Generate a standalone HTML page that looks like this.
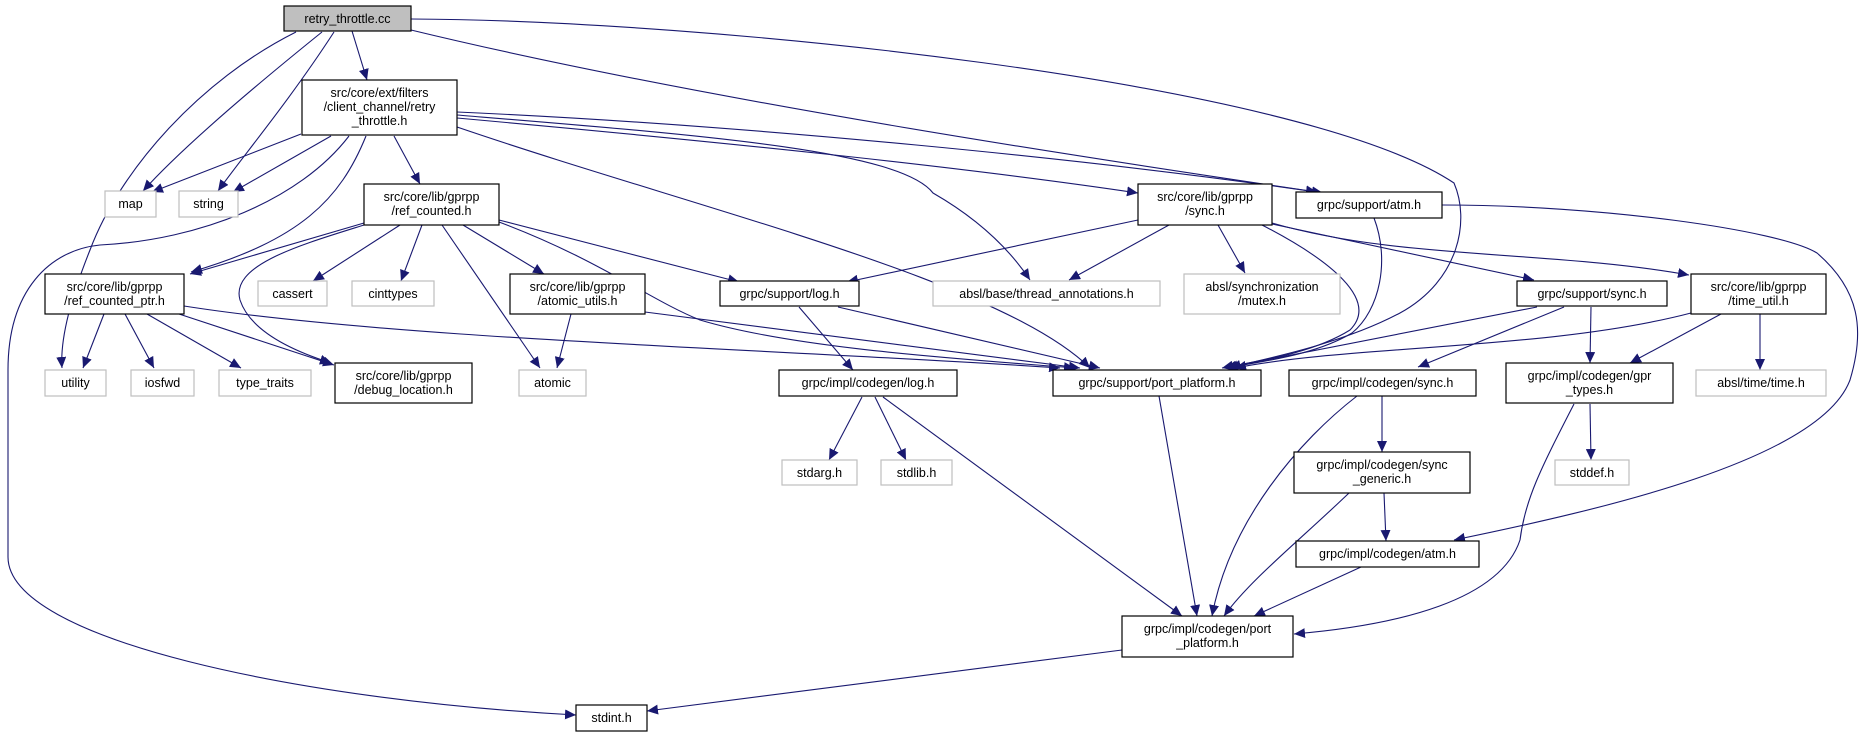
<!DOCTYPE html>
<html><head><meta charset="utf-8"><style>
html,body{margin:0;padding:0;background:#fff;}
svg{display:block;}
text{font-family:"Liberation Sans",sans-serif;font-size:12.5px;fill:#000;text-anchor:middle;}
.n{fill:#fff;stroke:#000;stroke-width:1.2;}
.g{fill:#fff;stroke:#bfbfbf;stroke-width:1.2;}
.e{fill:none;stroke:#191970;stroke-width:1.1;marker-end:url(#a);}
</style></head><body>
<svg width="1870" height="737" viewBox="0 0 1870 737" xmlns="http://www.w3.org/2000/svg">
<defs><marker id="a" markerUnits="userSpaceOnUse" markerWidth="12" markerHeight="10" refX="11" refY="5" orient="auto"><path d="M0,0 L11,5 L0,10 z" fill="#191970"/></marker></defs>

<!-- edges -->
<g>
<!-- retry_throttle.cc -->
<path class="e" d="M352,31 L367,80"/>
<path class="e" d="M322,32 C250,90 180,150 143,191"/>
<path class="e" d="M334,32 C290,100 240,160 218,191"/>
<path class="e" d="M296,32 C200,80 120,170 90,250 C70,300 60,340 62,368"/>
<path class="e" d="M411,19 C700,20 1300,80 1454,183 C1470,220 1460,280 1400,313 C1340,345 1260,360 1227,368"/>
<path class="e" d="M411,30 C700,100 1100,160 1317,192"/>
<!-- retry_throttle.h -->
<path class="e" d="M301,134 L152,192"/>
<path class="e" d="M331,136 L233,192"/>
<path class="e" d="M349,136 C300,200 200,240 100,245 C50,250 8,290 8,370 L8,557 C8,640 300,700 576,715"/>
<path class="e" d="M366,136 C340,200 300,240 191,272"/>
<path class="e" d="M394,136 L420,184"/>
<path class="e" d="M457,127 C700,210 1000,280 1090,368"/>
<path class="e" d="M457,118 C700,140 950,165 1138,193"/>
<path class="e" d="M457,112 C750,125 1100,160 1323,193"/>
<path class="e" d="M457,115 C700,135 900,150 933,193 C980,220 1010,250 1030,280"/>
<!-- ref_counted.h -->
<path class="e" d="M364,223 L190,274"/>
<path class="e" d="M364,225 C300,245 230,265 240,300 C250,330 290,350 331,363"/>
<path class="e" d="M400,225 L313,281"/>
<path class="e" d="M422,225 L401,281"/>
<path class="e" d="M442,225 L540,368"/>
<path class="e" d="M463,225 L544,274"/>
<path class="e" d="M499,220 L739,282"/>
<path class="e" d="M499,222 C600,260 650,300 700,320 C800,350 980,360 1075,368"/>
<!-- ref_counted_ptr.h -->
<path class="e" d="M104,314 L83,368"/>
<path class="e" d="M125,314 L154,368"/>
<path class="e" d="M147,314 L241,368"/>
<path class="e" d="M179,314 L334,365"/>
<path class="e" d="M184,306 C400,340 800,350 1060,368"/>
<!-- atomic_utils.h -->
<path class="e" d="M571,314 L557,368"/>
<path class="e" d="M645,312 L1080,368"/>
<!-- log.h -->
<path class="e" d="M799,307 L853,370"/>
<path class="e" d="M838,307 L1100,368"/>
<!-- sync.h gprpp -->
<path class="e" d="M1138,220 L847,282"/>
<path class="e" d="M1169,225 L1069,280"/>
<path class="e" d="M1218,225 L1245,273"/>
<path class="e" d="M1262,225 C1330,260 1380,300 1350,330 C1310,355 1250,362 1222,368"/>
<path class="e" d="M1272,224 L1534,280"/>
<path class="e" d="M1272,223 C1400,260 1550,250 1689,275"/>
<!-- atm.h -->
<path class="e" d="M1374,218 C1390,260 1380,310 1352,333 C1310,358 1250,362 1230,368"/>
<path class="e" d="M1442,205 C1600,205 1780,230 1817,253 C1860,290 1865,330 1850,380 C1820,460 1600,510 1454,540"/>
<!-- support/sync.h -->
<path class="e" d="M1537,307 L1225,368"/>
<path class="e" d="M1564,307 L1418,367"/>
<path class="e" d="M1591,307 L1590,363"/>
<!-- time_util.h -->
<path class="e" d="M1691,313 C1550,350 1350,345 1235,368"/>
<path class="e" d="M1721,314 L1630,363"/>
<path class="e" d="M1760,314 L1760,370"/>
<!-- codegen/log.h -->
<path class="e" d="M862,397 L829,460"/>
<path class="e" d="M875,397 L906,460"/>
<path class="e" d="M883,397 L1182,616"/>
<!-- port_platform.h -->
<path class="e" d="M1159,396 L1197,616"/>
<!-- codegen/sync.h -->
<path class="e" d="M1357,396 C1300,440 1230,520 1212,616"/>
<path class="e" d="M1382,396 L1382,452"/>
<!-- gpr_types -->
<path class="e" d="M1590,404 L1591,460"/>
<path class="e" d="M1574,404 C1540,470 1525,500 1520,540 C1500,600 1400,625 1294,634"/>
<!-- sync_generic -->
<path class="e" d="M1349,493 C1300,540 1250,580 1224,616"/>
<path class="e" d="M1384,493 L1386,541"/>
<!-- codegen/atm -->
<path class="e" d="M1361,567 L1254,616"/>
<!-- codegen port_platform -->
<path class="e" d="M1122,650 L647,711"/>
</g>

<!-- nodes -->
<rect x="284" y="6" width="127" height="25" fill="#bfbfbf" stroke="#000" stroke-width="1.2"/><text x="347.5" y="23">retry_throttle.cc</text>
<rect class="n" x="302" y="80" width="155" height="55"/><text x="379.5" y="97">src/core/ext/filters</text><text x="379.5" y="111">/client_channel/retry</text><text x="379.5" y="125">_throttle.h</text>
<rect class="g" x="105" y="191" width="51" height="26"/><text x="130.5" y="208">map</text>
<rect class="g" x="179" y="191" width="59" height="26"/><text x="208.5" y="208">string</text>
<rect class="n" x="364" y="184" width="135" height="41"/><text x="431.5" y="201">src/core/lib/gprpp</text><text x="431.5" y="215">/ref_counted.h</text>
<rect class="n" x="1138" y="184" width="134" height="41"/><text x="1205" y="201">src/core/lib/gprpp</text><text x="1205" y="215">/sync.h</text>
<rect class="n" x="1296" y="192" width="146" height="26"/><text x="1369" y="209">grpc/support/atm.h</text>
<rect class="n" x="45" y="274" width="139" height="40"/><text x="114.5" y="291">src/core/lib/gprpp</text><text x="114.5" y="305">/ref_counted_ptr.h</text>
<rect class="g" x="258" y="281" width="69" height="25"/><text x="292.5" y="298">cassert</text>
<rect class="g" x="352" y="281" width="82" height="25"/><text x="393" y="298">cinttypes</text>
<rect class="n" x="510" y="274" width="135" height="40"/><text x="577.5" y="291">src/core/lib/gprpp</text><text x="577.5" y="305">/atomic_utils.h</text>
<rect class="n" x="720" y="281" width="139" height="25"/><text x="789.5" y="298">grpc/support/log.h</text>
<rect class="g" x="933" y="281" width="227" height="25"/><text x="1046.5" y="298">absl/base/thread_annotations.h</text>
<rect class="g" x="1184" y="274" width="156" height="40"/><text x="1262" y="291">absl/synchronization</text><text x="1262" y="305">/mutex.h</text>
<rect class="n" x="1517" y="281" width="150" height="25"/><text x="1592" y="298">grpc/support/sync.h</text>
<rect class="n" x="1691" y="274" width="135" height="40"/><text x="1758.5" y="291">src/core/lib/gprpp</text><text x="1758.5" y="305">/time_util.h</text>
<rect class="g" x="45" y="370" width="61" height="26"/><text x="75.5" y="387">utility</text>
<rect class="g" x="131" y="370" width="63" height="26"/><text x="162.5" y="387">iosfwd</text>
<rect class="g" x="219" y="370" width="92" height="26"/><text x="265" y="387">type_traits</text>
<rect class="n" x="335" y="363" width="137" height="40"/><text x="403.5" y="380">src/core/lib/gprpp</text><text x="403.5" y="394">/debug_location.h</text>
<rect class="g" x="519" y="370" width="67" height="26"/><text x="552.5" y="387">atomic</text>
<rect class="n" x="779" y="370" width="178" height="26"/><text x="868" y="387">grpc/impl/codegen/log.h</text>
<rect class="n" x="1053" y="370" width="208" height="26"/><text x="1157" y="387">grpc/support/port_platform.h</text>
<rect class="n" x="1289" y="370" width="187" height="26"/><text x="1382.5" y="387">grpc/impl/codegen/sync.h</text>
<rect class="n" x="1506" y="363" width="167" height="40"/><text x="1589.5" y="380">grpc/impl/codegen/gpr</text><text x="1589.5" y="394">_types.h</text>
<rect class="g" x="1696" y="370" width="130" height="26"/><text x="1761" y="387">absl/time/time.h</text>
<rect class="g" x="782" y="460" width="75" height="25"/><text x="819.5" y="477">stdarg.h</text>
<rect class="g" x="881" y="460" width="71" height="25"/><text x="916.5" y="477">stdlib.h</text>
<rect class="g" x="1555" y="460" width="74" height="25"/><text x="1592" y="477">stddef.h</text>
<rect class="n" x="1294" y="452" width="176" height="41"/><text x="1382" y="469">grpc/impl/codegen/sync</text><text x="1382" y="483">_generic.h</text>
<rect class="n" x="1296" y="541" width="183" height="26"/><text x="1387.5" y="558">grpc/impl/codegen/atm.h</text>
<rect class="n" x="1122" y="616" width="171" height="41"/><text x="1207.5" y="633">grpc/impl/codegen/port</text><text x="1207.5" y="647">_platform.h</text>
<rect class="n" x="576" y="705" width="71" height="26"/><text x="611.5" y="722">stdint.h</text>
</svg>
</body></html>
